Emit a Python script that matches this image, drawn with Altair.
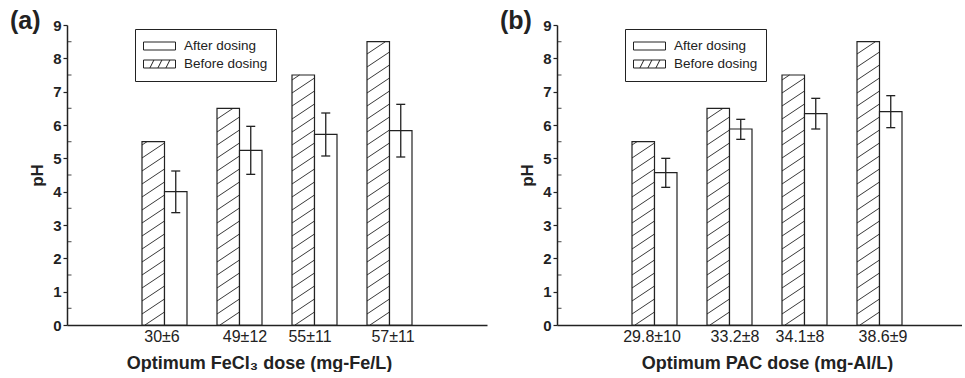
import json
import altair as alt
import pandas as pd

# ---------------- data ----------------
groups = [1, 2, 3, 4]
series = ["After dosing", "Before dosing"]

labels_a = ["30±6", "49±12", "55±11", "57±11"]
before_a = [5.5, 6.5, 7.5, 8.5]
after_a = [4.0, 5.24, 5.72, 5.83]
low_a = [3.37, 4.52, 5.07, 5.04]
high_a = [4.62, 5.96, 6.36, 6.62]

labels_b = ["29.8±10", "33.2±8", "34.1±8", "38.6±9"]
before_b = [5.5, 6.5, 7.5, 8.5]
after_b = [4.57, 5.88, 6.34, 6.40]
low_b = [4.13, 5.57, 5.88, 5.92]
high_b = [5.0, 6.17, 6.8, 6.88]

panel_titles = ["(a)", "(b)"]
x_titles = ["Optimum  FeCl\u2083 dose (mg-Fe/L)", "Optimum PAC dose (mg-Al/L)"]
y_title = "pH"
y_major = list(range(0, 10))
y_minor = [v + 0.5 for v in range(0, 9)]

# ---------------- style ----------------
FONT = "Liberation Sans"
INK = "#222222"
BW = 0.3          # bar width in group units
H_STEP = 0.39     # hatch spacing (pH units)
H_RISE = 0.45     # hatch rise across a bar (pH units)
PLOT_H = 300
LABEL_NUDGE = [-3, 5, -5, 3]   # small horizontal shifts of the category labels (px)

AFTER_PATH = "M-1,-0.25H1V0.25H-1Z"
BEFORE_PATH = ("M-1,-0.25H1V0.25H-1Z M-0.6,0.25L-0.35,-0.25 "
               "M-0.1,0.25L0.15,-0.25 M0.4,0.25L0.65,-0.25")


def panel(labels, before, after, low, high, ptitle, xtitle, width, xdomain, title_x):
    df = pd.DataFrame({"g": groups, "label": labels, "before": before,
                       "after": after, "low": low, "high": high})
    base = alt.Chart(df).transform_calculate(
        xb0=f"datum.g - {BW}",
        xa1=f"datum.g + {BW}",
        xc=f"datum.g + {BW / 2}",
    )
    xs = alt.Scale(domain=xdomain, nice=False, zero=False)
    ys = alt.Scale(domain=[0, 9], nice=False, zero=True)
    lab_js = json.dumps(labels, ensure_ascii=False)
    nudge = {"condition": [{"test": f"datum.value == {g}", "value": n}
                           for g, n in zip(groups, LABEL_NUDGE)],
             "value": 0}
    x_axis = alt.Axis(values=groups, labelExpr=f"{lab_js}[datum.value - 1]",
                      labelOffset=nudge,
                      ticks=False, grid=False, title=xtitle, titleX=title_x,
                      labelFont=FONT, labelFontSize=16, labelColor=INK,
                      labelPadding=3, titleFont=FONT, titleFontSize=18,
                      titleFontWeight="bold", titleColor=INK, titlePadding=10,
                      domainColor=INK, domainWidth=1.5)
    y_axis = alt.Axis(values=y_major, grid=False, title=y_title,
                      tickSize=4, tickWidth=1.2, tickColor=INK,
                      labelFont=FONT, labelFontSize=15, labelFontWeight="bold",
                      labelColor=INK, labelPadding=2,
                      titleFont=FONT, titleFontSize=17, titleFontWeight="bold",
                      titleColor=INK, titlePadding=6,
                      domainColor=INK, domainWidth=1.5)
    X = lambda f: alt.X(f, scale=xs, axis=x_axis)
    Y = lambda f: alt.Y(f, scale=ys, axis=y_axis)

    before_bars = base.mark_rect(fill="white", stroke=INK, strokeWidth=1.2).encode(
        x=X("xb0:Q"), x2="g:Q", y=Y("before:Q"), y2=alt.datum(0))

    hatch = base.transform_calculate(
        hk="sequence(0, 40)"
    ).transform_flatten(["hk"]).transform_calculate(
        c=f"datum.hk * {H_STEP} - {H_RISE}"
    ).transform_filter(
        f"datum.c + {H_RISE} > 0.001 && datum.c < datum.before"
    ).transform_calculate(
        t0=f"max(0, -datum.c / {H_RISE})",
        t1=f"min(1, (datum.before - datum.c) / {H_RISE})",
    ).transform_calculate(
        hx1=f"datum.xb0 + datum.t0 * {BW}",
        hy1=f"datum.c + datum.t0 * {H_RISE}",
        hx2=f"datum.xb0 + datum.t1 * {BW}",
        hy2=f"datum.c + datum.t1 * {H_RISE}",
    ).mark_rule(stroke=INK, strokeWidth=0.9).encode(
        x=X("hx1:Q"), x2="hx2:Q", y=Y("hy1:Q"), y2="hy2:Q")

    after_bars = base.mark_rect(fill="white", stroke=INK, strokeWidth=1.2).encode(
        x=X("g:Q"), x2="xa1:Q", y=Y("after:Q"), y2=alt.datum(0))

    err = base.mark_rule(stroke=INK, strokeWidth=1.3).encode(
        x=X("xc:Q"), y=Y("low:Q"), y2="high:Q")

    caps = base.transform_fold(["low", "high"], as_=["end", "ev"]).mark_tick(
        orient="horizontal", size=9, thickness=1.3, color=INK, opacity=1
    ).encode(x=X("xc:Q"), y=Y("ev:Q"))

    # minor (inward) y ticks at the half units, drawn at the left edge of the x domain
    minor = alt.Chart(pd.DataFrame({"m": y_minor})).mark_tick(
        orient="horizontal", size=4, thickness=1.2, color=INK, xOffset=2.5
    ).encode(x=X("xm:Q"), y=Y("m:Q")).transform_calculate(xm=f"{xdomain[0]}")

    # legend only: no marks drawn, entries come from the explicit scale domain
    legend_pts = base.transform_fold(["after", "before"], as_=["key", "val"]).transform_calculate(
        series=f"datum.key == 'after' ? {json.dumps(series[0])} : {json.dumps(series[1])}"
    ).transform_filter("false").mark_point(color=INK, strokeWidth=1).encode(
        x=X("g:Q"), y=Y("val:Q"),
        shape=alt.Shape("series:N",
                        scale=alt.Scale(domain=series, range=[AFTER_PATH, BEFORE_PATH]),
                        legend=alt.Legend(title=None, orient="none", legendX=68, legendY=4,
                                          symbolStrokeColor=INK, symbolFillColor="white",
                                          symbolOpacity=1, symbolStrokeWidth=1)))

    return alt.layer(before_bars, hatch, after_bars, err, caps, minor, legend_pts).properties(
        width=width, height=PLOT_H,
        title=alt.TitleParams(text=ptitle, anchor="start", frame="group",
                              font=FONT, fontSize=25, fontWeight="bold",
                              color=INK, dx=-57, dy=16, offset=0))


pa = panel(labels_a, before_a, after_a, low_a, high_a,
           panel_titles[0], x_titles[0], 420, [-0.3, 5.3], 192)
pb = panel(labels_b, before_b, after_b, low_b, high_b,
           panel_titles[1], x_titles[1], 405, [-0.3, 5.1], 210)

chart = alt.hconcat(pa, pb, spacing=13).resolve_legend(shape="independent").properties(
    padding={"left": 10, "top": 9, "right": 0, "bottom": 0}
).configure_view(stroke=None).configure_legend(
    symbolSize=1024, clipHeight=18,
    labelFont=FONT, labelFontSize=13.5, labelColor=INK, labelOffset=8,
    strokeColor=INK, fillColor="white", padding=8, rowPadding=0,
    cornerRadius=0
)

chart.save("out.html", embed_options={"renderer": "svg", "actions": False})
